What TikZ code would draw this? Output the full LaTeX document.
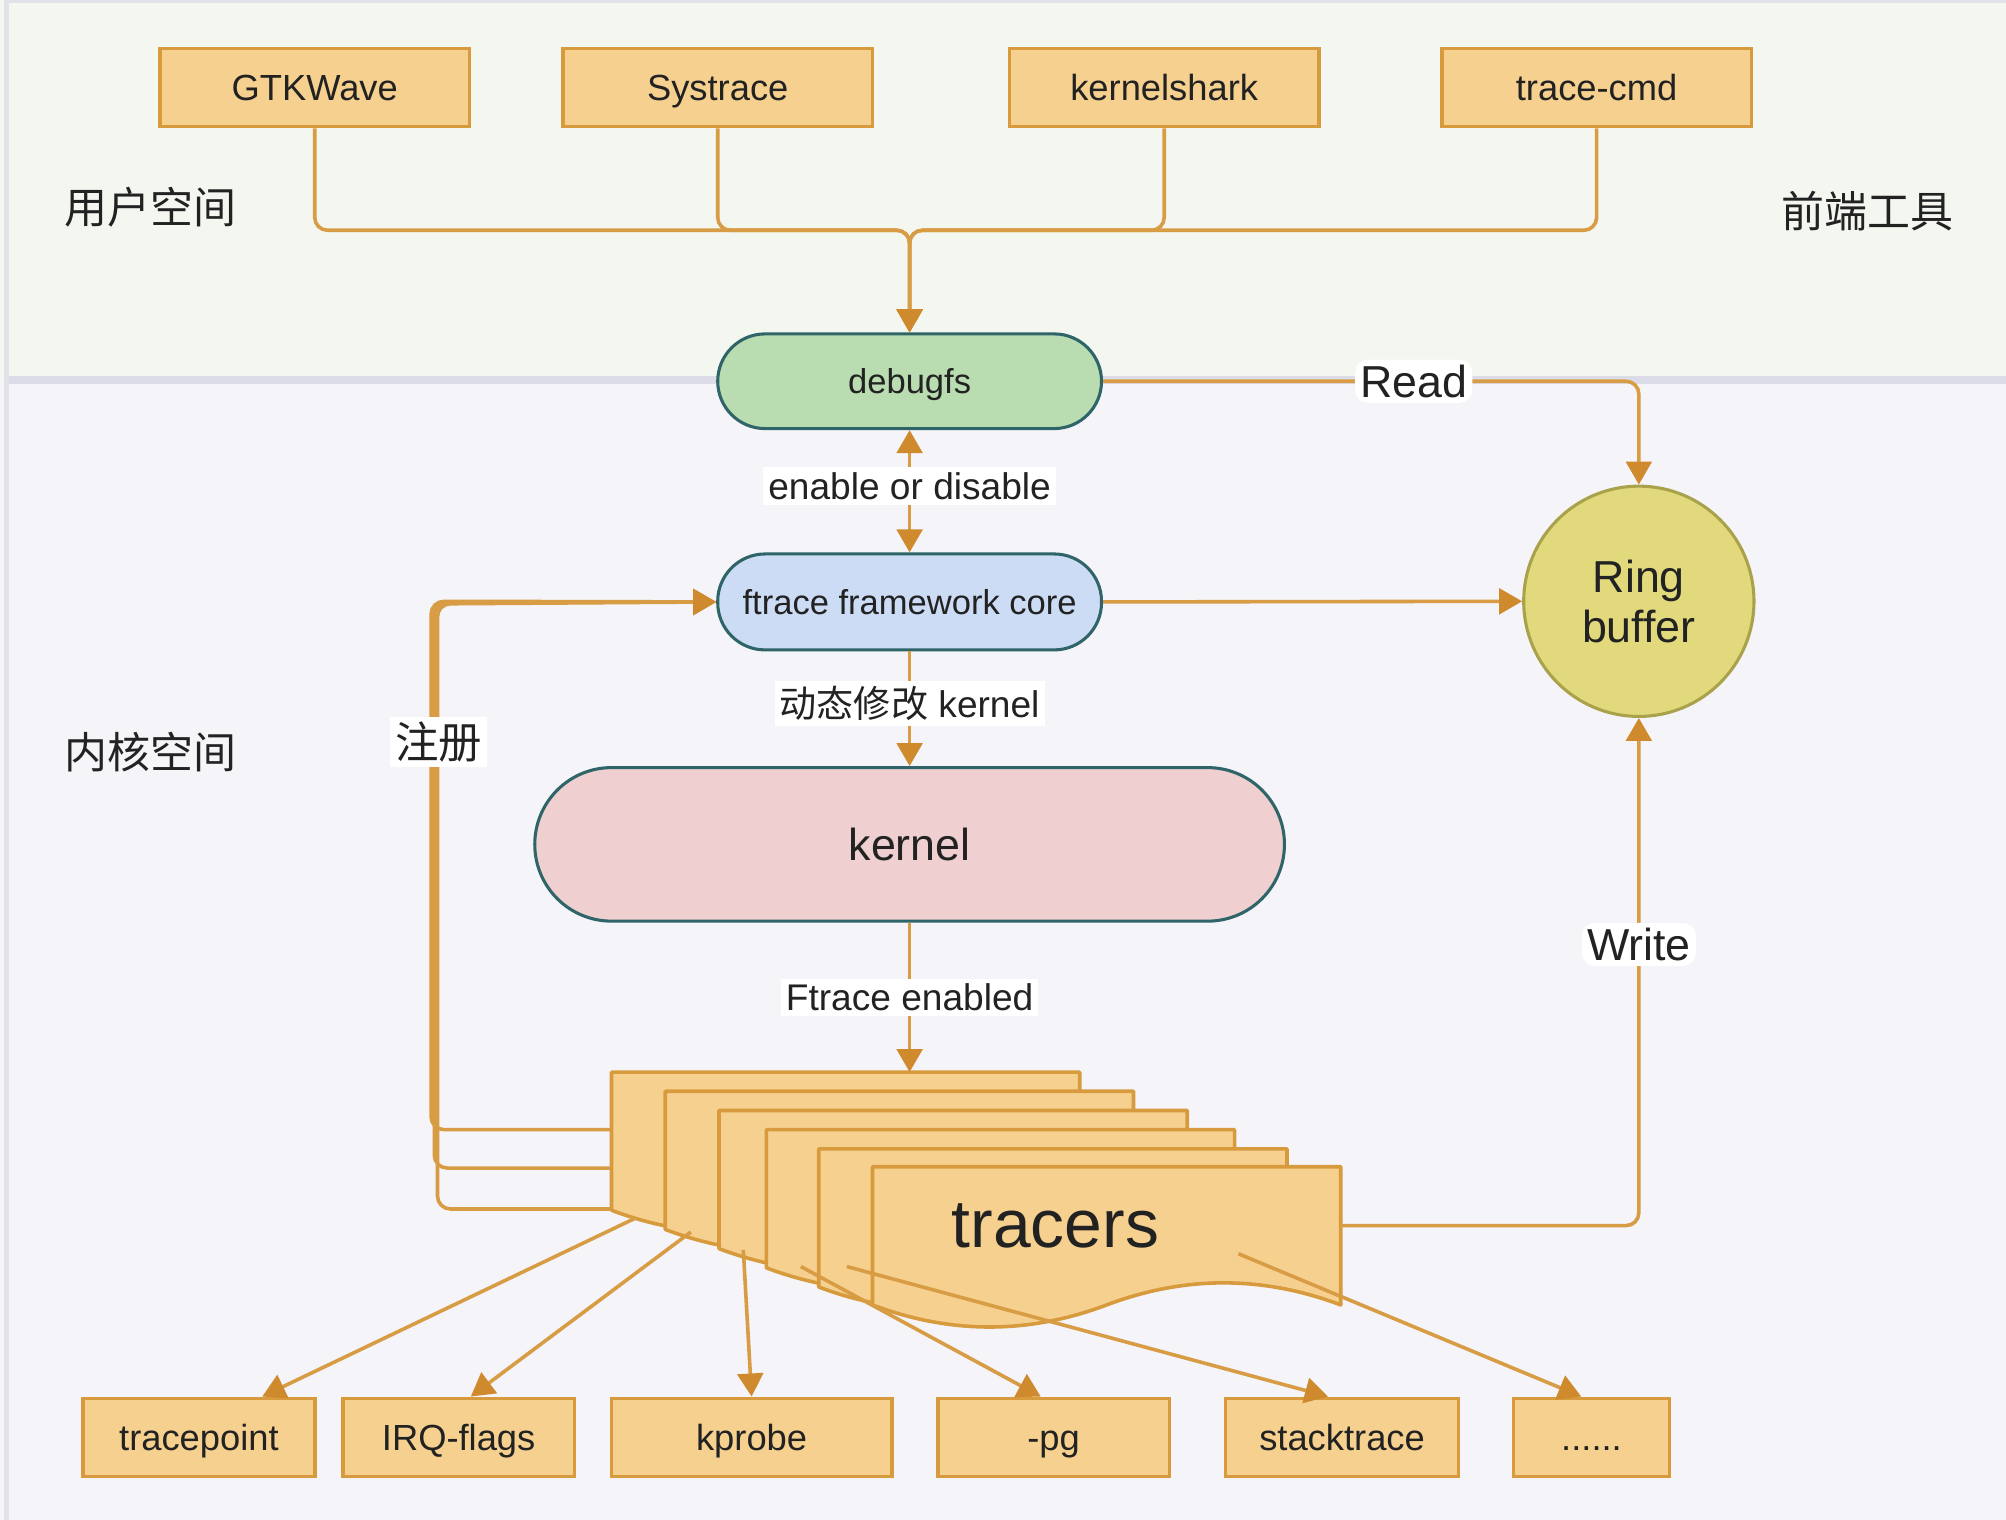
\documentclass[tikz,border=0pt]{standalone}
\usepackage{fontspec}
\setmainfont{Liberation Sans}
\newfontfamily\cjk{Noto Sans CJK SC}
\usetikzlibrary{arrows.meta,calc}
\definecolor{boxf}{HTML}{F6D08F}
\definecolor{boxd}{HTML}{D79B3E}
\definecolor{lnc}{HTML}{D89C45}
\definecolor{tipc}{HTML}{D08A2E}
\definecolor{grnf}{HTML}{B9DCB0}
\definecolor{bluf}{HTML}{CCDCF4}
\definecolor{pinkf}{HTML}{EFCFCF}
\definecolor{edgeteal}{HTML}{2F6468}
\definecolor{ringf}{HTML}{E2D97C}
\definecolor{ringd}{HTML}{A9A24A}
\definecolor{txt}{HTML}{222222}
\definecolor{bgtop}{HTML}{F3F7EF}
\definecolor{bgbot}{HTML}{F4F4F9}
\definecolor{sepc}{HTML}{DCDCE8}
\definecolor{bordc}{HTML}{E2E2EA}
\tikzset{
  mytip/.tip={Triangle[length=9pt,width=10pt,color=tipc,fill=tipc]},
  tool/.style={draw=boxd, fill=boxf, line width=1.4pt, minimum width=121pt, minimum height=30.5pt, inner sep=0pt, text height=10.2pt, text depth=0pt, text=txt, font=\fontsize{14.2pt}{16pt}\selectfont},
  leaf/.style={tool, minimum width=#1},
  pill/.style={draw=edgeteal, line width=1.2pt, rounded corners=#1, inner sep=0pt, text=txt},
  conn/.style={draw=lnc, line width=1.4pt},
  arr/.style={conn, -mytip},
  darr/.style={conn, mytip-mytip},
  lbl/.style={fill=white, inner sep=2pt, text=txt, font=\fontsize{14.5pt}{16pt}\selectfont},
  biglbl/.style={fill=white, inner sep=2pt, text=txt, font=\fontsize{17.5pt}{19pt}\selectfont},
  zone/.style={text=txt, font=\cjk\fontsize{16.8pt}{18pt}\selectfont},
  sheet/.style={draw=boxd, fill=boxf, line width=1.4pt, line join=round},
}
\begin{document}
\begin{tikzpicture}[x=0.5pt,y=-0.5pt]
\useasboundingbox (0,0) rectangle (1568,1188);
% backgrounds
\fill[bgbot] (0,0) rectangle (1568,1188);
\fill[bgtop] (0,0) rectangle (1568,296);
\draw[sepc, line width=3pt] (6,297) -- (1568,297);
\draw[bordc, line width=2pt] (5,0) -- (5,1188);
\draw[bordc, line width=1pt] (5,1) -- (1568,1);

% zone labels
\node[zone] (uz) at (118,162) {用户空间};
\node[zone] (fz) at (1460,165) {前端工具};
\node[zone] (kz) at (118,588) {内核空间};

% front-end tools
\node[tool] (gtk) at (246,68.5) {GTKWave};
\node[tool] (sys) at (561,68.5) {Systrace};
\node[tool] (ks) at (910,68.5) {kernelshark};
\node[tool] (tc) at (1248,68.5) {trace-cmd};

% core nodes
\node[pill=18.5pt, fill=grnf, minimum width=150pt, minimum height=37pt, text height=9.7pt, text depth=0pt, font=\fontsize{13.5pt}{15pt}\selectfont] (db) at (711,298) {debugfs};
\node[pill=18.5pt, fill=bluf, minimum width=150pt, minimum height=37.5pt, text height=9.7pt, text depth=0pt, font=\fontsize{13.5pt}{15pt}\selectfont] (fc) at (711,470.5) {ftrace framework core};
\node[pill=30pt, fill=pinkf, minimum width=293pt, minimum height=60pt, font=\fontsize{17.5pt}{19pt}\selectfont] (kn) at (711,660) {kernel};
\node[circle, draw=ringd, fill=ringf, line width=1.2pt, minimum size=90pt, inner sep=0pt, align=center, text=txt, font=\fontsize{17.5pt}{19.5pt}\selectfont] (rb) at (1281,470) {Ring\\buffer};

% top connectors
\coordinate (j) at (711,180);
\foreach \n in {gtk,sys,ks,tc}{
  \draw[arr, rounded corners=5pt] (\n.south) |- (j) -- (db.north);
}

% debugfs -> ring buffer (Read)
\draw[arr, rounded corners=5pt] (db.east) -| (rb.north) node[biglbl, pos=0.29] {Read};
% enable or disable
\draw[darr] (db.south) -- (fc.north) node[lbl, midway, yshift=2pt] {enable or disable};
% ftrace core -> ring buffer
\draw[arr] (fc.east) -- (rb.west);
% ftrace core -> kernel
\draw[arr] (fc.south) -- (kn.north) node[lbl, midway, yshift=2pt] {{\cjk 动态修改} kernel};

% tracers stack
\coordinate (s1n) at (711,838);
\foreach \x/\y in {478/838, 520/853, 562/868, 599/883, 640/898, 682/912}{
  \draw[sheet] (\x,\y) -- (\x+366,\y) -- (\x+366,\y+108)
    .. controls (\x+305,\y+85) and (\x+244,\y+85) .. (\x+183,\y+108)
    .. controls (\x+122,\y+131) and (\x+61,\y+131) .. (\x,\y+108) -- cycle;
}
\node[text=txt, font=\fontsize{26.5pt}{28pt}\selectfont] (tr) at (825,958) {tracers};

% kernel -> tracers
\draw[arr] (kn.south) -- (s1n) node[lbl, midway, yshift=0pt] {Ftrace enabled};

% register connectors
\coordinate (r1) at (478,883);
\coordinate (r2) at (478,913);
\coordinate (r3) at (478,945);
\draw[arr, rounded corners=5pt] (r1) -- (337,883) -- (337,470) -- (fc.west);
\draw[arr, rounded corners=5pt] (r2) -- (339.5,913) -- (339.5,471) -- (fc.west);
\draw[arr, rounded corners=5pt] (r3) -- (342,945) -- (342,472) -- (fc.west);
\node[fill=white, inner sep=2pt, text=txt, font=\cjk\fontsize{17pt}{18pt}\selectfont] (reg) at (343,580) {注册};

% write
\coordinate (wr) at (1048,958);
\draw[arr, rounded corners=5pt] (wr) -| (rb.south) node[biglbl, pos=0.777] {Write};

% bottom tracer types
\node[leaf=90.5pt] (tp) at (155.5,1123.5) {tracepoint};
\node[leaf=90.5pt] (irq) at (358.5,1123.5) {IRQ-flags};
\node[leaf=109.5pt] (kp) at (587.5,1123.5) {kprobe};
\node[leaf=90.5pt] (pg) at (823.5,1123.5) {-pg};
\node[leaf=91pt] (st) at (1049,1123.5) {stacktrace};
\node[leaf=61pt] (dots) at (1244,1123.5) {......};

\coordinate (t1) at (497,952);
\coordinate (t2) at (540,963);
\coordinate (t3) at (581,977);
\coordinate (t4) at (626,990);
\coordinate (t5) at (662,990);
\coordinate (t6) at (968,980);
\draw[arr] (t1) -- ($(tp.north)+(49.5,0)$);
\draw[arr] (t2) -- ($(irq.north)+(9.5,0)$);
\draw[arr] (t3) -- ($(kp.north)+(0,0)$);
\draw[arr] (t4) -- ($(pg.north)+(-10,0)$);
\draw[arr] (t5) -- ($(st.north)+(-11,0)$);
\draw[arr] (t6) -- ($(dots.north)+(-8,0)$);
\end{tikzpicture}
\end{document}
